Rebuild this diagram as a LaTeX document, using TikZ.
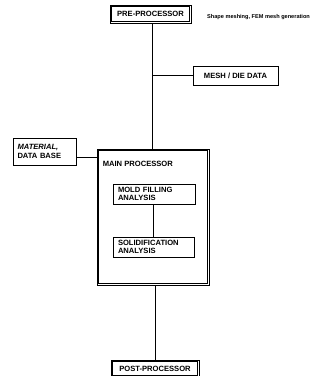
\documentclass[tikz,border=0pt]{standalone}
\usepackage{fontspec}
\setmainfont{Liberation Sans}
\begin{document}
\begin{tikzpicture}[x=1pt,y=1pt,
  lbl/.style={font=\fontsize{7.6}{8.6}\selectfont\bfseries},
  box/.style={draw, line width=0.8pt, inner sep=1pt, lbl},
  inner/.style={line width=0.6pt},
  conn/.style={line width=0.7pt}]
\useasboundingbox (0,0) rectangle (323,-376);
\node[box, minimum width=81pt, minimum height=18pt] (pre) at (150.5,-14) {PRE-PROCESSOR};
\draw[inner] ([shift={(2pt,-2pt)}]pre.north west) rectangle ([shift={(-2pt,2pt)}]pre.south east);
\node[anchor=west, font=\fontsize{5.6}{6.6}\selectfont\bfseries, inner sep=0pt] (note) at (207,-17) {Shape meshing, FEM mesh generation};
\node[box, minimum width=85pt, minimum height=19pt] (mesh) at (235.5,-75.5) {MESH / DIE DATA};
\node[box, minimum width=63pt, minimum height=27pt, align=left, text width=54pt] (mat) at (44.5,-151.5) {\textit{MATERIAL,}\\DATA BASE};
\node[box, minimum width=112pt, minimum height=136pt] (main) at (153,-217) {};
\draw[inner] ([shift={(2pt,-2pt)}]main.north west) rectangle ([shift={(-2pt,2pt)}]main.south east);
\node[anchor=north west, lbl, inner sep=0pt] (mainlbl) at ([xshift=6pt,yshift=-12pt]main.north west) {MAIN PROCESSOR};
\node[box, minimum width=82pt, minimum height=20pt, align=left, text width=72pt] (mold) at (154,-194) {MOLD FILLING\\ANALYSIS};
\node[box, minimum width=81pt, minimum height=20pt, align=left, text width=71pt] (solid) at (153.5,-247) {SOLIDIFICATION\\ANALYSIS};
\node[box, minimum width=88pt, minimum height=17pt] (post) at (155,-368.5) {POST-PROCESSOR};
\draw[inner] ([shift={(2pt,-2pt)}]post.north west) rectangle ([shift={(-2pt,2pt)}]post.south east);
\coordinate (j) at (152,-75.5);
\draw[conn] (pre.south -| j) -- (j |- main.north);
\draw[conn] (j) -- (mesh.west);
\draw[conn] ([yshift=-6pt]mat.east) -- ([yshift=-6pt]mat.east -| main.west);
\draw[conn] (mold.south -| solid.north) -- (solid.north);
\draw[conn] (main.south -| post.north) -- (post.north);
\end{tikzpicture}
\end{document}
